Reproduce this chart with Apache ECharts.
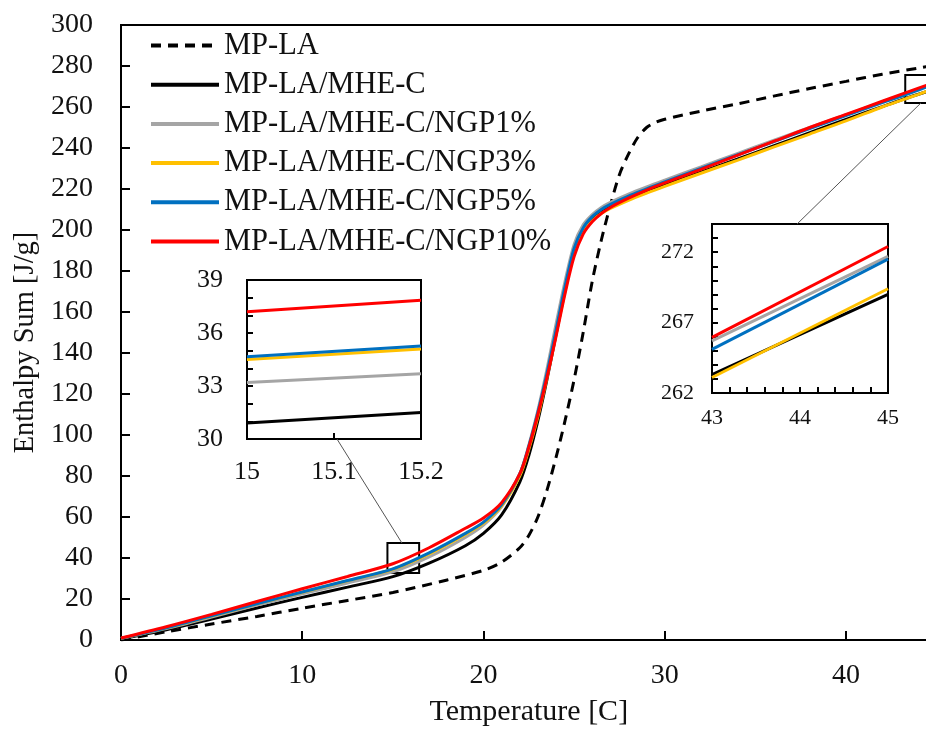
<!DOCTYPE html>
<html><head><meta charset="utf-8">
<script src="https://cdn.jsdelivr.net/npm/echarts@6/dist/echarts.min.js"></script>
<style>html,body{margin:0;padding:0;background:#fff}#c{width:926px;height:730px}</style>
</head><body><div id="c"></div>
<script>
const seriesNames = ['MP-LA', 'MP-LA/MHE-C', 'MP-LA/MHE-C/NGP1%', 'MP-LA/MHE-C/NGP3%', 'MP-LA/MHE-C/NGP5%', 'MP-LA/MHE-C/NGP10%'];
const seriesColors = ['#000000', '#000000', '#a5a5a5', '#ffc000', '#0070c0', '#ff0000'];

// Main chart: MP-LA (dashed)
const tempMPLA = [0, 2.5, 5, 7.5, 10, 12.5, 15, 18, 20, 21, 22, 22.5, 23, 23.5, 24, 24.5, 25, 25.5, 26, 26.5, 27, 27.5, 28, 28.5, 29, 29.5, 30, 32, 34, 36, 38, 40, 42, 44, 45];
const enthalpyMPLA = [0, 4, 7.8, 11.5, 15.5, 19.3, 23.2, 29.3, 34, 38, 45, 51, 60, 73, 89, 107, 127, 150, 175, 195, 212, 227, 237, 245, 250, 252.5, 254, 258, 261.5, 265.3, 269, 272.5, 276, 279, 280.5];

// Main chart: composites
const tempComposite = [0, 2.5, 5, 7.5, 10, 12.5, 15, 17, 19, 20, 21, 22, 22.5, 23, 23.5, 24, 24.5, 25, 25.5, 26, 26.5, 27, 28, 29, 30, 32, 34, 36, 38, 40, 42, 43, 44, 45];
const enthalpyMHEC   = [0.5, 5, 10.2, 15.6, 20.8, 25.8, 30.9, 37.5, 46, 52, 61, 77, 90, 107, 127, 149, 171, 190, 200, 205.5, 209, 211.5, 215.5, 219, 222, 228.2, 234.5, 241, 247.5, 254, 260.2, 263.3, 266.2, 269.0];
const enthalpyNGP1   = [0.8, 5.6, 11.2, 17, 22.5, 27.8, 33.2, 40.5, 50, 56, 65, 81, 95, 112, 132, 154, 175, 193, 202.5, 207.5, 211, 213.5, 217.5, 221, 224.3, 230.8, 237.3, 243.7, 250, 256.2, 262.5, 265.7, 268.7, 271.7];
const enthalpyNGP3   = [0.8, 5.9, 11.7, 17.6, 23.3, 28.9, 34.5, 42, 51.5, 57, 65.5, 80, 93, 109, 128, 149, 170, 189, 199, 204.5, 208, 210.5, 214.5, 218, 221.3, 227.7, 234, 240.4, 246.8, 253.2, 260, 263.1, 266.2, 269.4];
const enthalpyNGP5   = [0.8, 5.9, 11.8, 17.7, 23.4, 29, 34.7, 42.5, 52, 57.5, 66, 81, 94.5, 111, 130, 151, 172.5, 191, 201, 206.5, 210, 212.5, 216.5, 220, 223.5, 230, 236.6, 243, 249.5, 255.8, 262.1, 265.1, 268.3, 271.5];
const enthalpyNGP10  = [1, 6.5, 12.5, 18.8, 25, 31, 37.2, 45, 54.5, 59.5, 67, 81, 94, 110, 128, 148, 169, 187, 198, 204, 208, 211, 215.5, 219.5, 223, 229.6, 236.4, 243.2, 250, 256.4, 262.8, 266, 269.2, 272.4];

// Inset (low temperature)
const insetLowTemp = [15, 15.2];
const insetLowMHEC  = [30.9, 31.5];
const insetLowNGP1  = [33.2, 33.7];
const insetLowNGP3  = [34.5, 35.1];
const insetLowNGP5  = [34.66, 35.26];
const insetLowNGP10 = [37.2, 37.85];

// Inset (high temperature)
const insetHighTemp = [43, 45];
const insetHighMHEC  = [263.3, 269.0];
const insetHighNGP1  = [265.7, 271.7];
const insetHighNGP3  = [263.1, 269.4];
const insetHighNGP5  = [265.1, 271.5];
const insetHighNGP10 = [265.95, 272.4];

// Zoom boxes and connectors (data coordinates of the main chart)
const zoomBoxLow = [[14.7, 47.3], [16.45, 32.7]];
const zoomBoxHigh = [[43.27, 275.6], [45, 262]];
const connectorLow = [[11.92, 98], [15.5, 47.3]];
const connectorHigh = [[37.3, 202.9], [44.14, 262]];

const FONT = "'Liberation Serif', 'Times New Roman', serif";
const pairs = (xs, ys) => xs.map((x, i) => [x, ys[i]]);

const compositeMain = [enthalpyMHEC, enthalpyNGP1, enthalpyNGP3, enthalpyNGP5, enthalpyNGP10];
const compositeLow = [insetLowMHEC, insetLowNGP1, insetLowNGP3, insetLowNGP5, insetLowNGP10];
const compositeHigh = [insetHighMHEC, insetHighNGP1, insetHighNGP3, insetHighNGP5, insetHighNGP10];

const series = [];
series.push({
  name: seriesNames[0], type: 'line', xAxisIndex: 0, yAxisIndex: 0,
  data: pairs(tempMPLA, enthalpyMPLA), smooth: 0.3, symbol: 'none', showSymbol: false,
  lineStyle: { color: seriesColors[0], width: 3, type: [10, 7] }, itemStyle: { color: seriesColors[0] }, z: 2,
  markArea: {
    silent: true,
    itemStyle: { color: 'rgba(0,0,0,0)', borderColor: '#000', borderWidth: 2 },
    data: [[{ coord: zoomBoxLow[0] }, { coord: zoomBoxLow[1] }], [{ coord: zoomBoxHigh[0] }, { coord: zoomBoxHigh[1] }]]
  },
  markLine: {
    silent: true, symbol: ['none', 'none'], label: { show: false },
    lineStyle: { color: '#555', width: 1, type: 'solid' },
    data: [[{ coord: connectorLow[0] }, { coord: connectorLow[1] }], [{ coord: connectorHigh[0] }, { coord: connectorHigh[1] }]]
  }
});
compositeMain.forEach((arr, i) => {
  series.push({
    name: seriesNames[i + 1], type: 'line', xAxisIndex: 0, yAxisIndex: 0,
    data: pairs(tempComposite, arr), smooth: 0.3, symbol: 'none', showSymbol: false,
    lineStyle: { color: seriesColors[i + 1], width: 3 }, itemStyle: { color: seriesColors[i + 1] }, z: 3 + i
  });
});
compositeLow.forEach((arr, i) => {
  series.push({
    name: seriesNames[i + 1], type: 'line', xAxisIndex: 1, yAxisIndex: 1,
    data: pairs(insetLowTemp, arr), symbol: 'none', showSymbol: false,
    lineStyle: { color: seriesColors[i + 1], width: 3 }, itemStyle: { color: seriesColors[i + 1] }, z: 3 + i
  });
});
compositeHigh.forEach((arr, i) => {
  series.push({
    name: seriesNames[i + 1], type: 'line', xAxisIndex: 2, yAxisIndex: 2,
    data: pairs(insetHighTemp, arr), symbol: 'none', showSymbol: false,
    lineStyle: { color: seriesColors[i + 1], width: 3 }, itemStyle: { color: seriesColors[i + 1] }, z: 3 + i
  });
});

const axisCommon = (fs, margin) => ({
  axisLine: { show: false },
  axisTick: { show: true, inside: true, length: 6, lineStyle: { color: '#000', width: 2 } },
  axisLabel: { color: '#111', fontSize: fs, fontFamily: FONT, margin: margin },
  splitLine: { show: false }
});

const option = {
  animation: false,
  backgroundColor: '#fff',
  grid: [
    { left: 121, top: 25, height: 615, width: 815.6, outerBoundsMode: 'none', containLabel: false, show: true, borderColor: '#000', borderWidth: 2, backgroundColor: 'transparent' },
    { left: 247, top: 280, width: 174, height: 159, outerBoundsMode: 'none', containLabel: false, show: true, borderColor: '#000', borderWidth: 2, backgroundColor: 'transparent' },
    { left: 712, top: 224, width: 176, height: 169, outerBoundsMode: 'none', containLabel: false, show: true, borderColor: '#000', borderWidth: 2, backgroundColor: 'transparent' }
  ],
  legend: {
    data: seriesNames, orient: 'vertical', left: 149, top: 30, padding: 0,
    itemWidth: 68, itemHeight: 14, itemGap: 8.2,
    itemStyle: { opacity: 0 },
    lineStyle: { width: 4 },
    textStyle: { fontSize: 30.5, fontFamily: FONT, color: '#111', lineHeight: 30 }
  },
  xAxis: [
    Object.assign(axisCommon(28, 22), {
      type: 'value', gridIndex: 0, min: 0, max: 45, interval: 10,
      axisLabel: { color: '#111', fontSize: 28, fontFamily: FONT, margin: 22, showMaxLabel: false },
      axisTick: { show: true, inside: true, length: 9, lineStyle: { color: '#000', width: 2 } },
      name: 'Temperature [C]', nameLocation: 'middle', nameGap: 57,
      nameTextStyle: { fontSize: 30, fontFamily: FONT, color: '#111' }
    }),
    Object.assign(axisCommon(26, 20), {
      type: 'value', gridIndex: 1, min: 15, max: 15.2, interval: 0.1,
      axisLabel: { color: '#111', fontSize: 26, fontFamily: FONT, margin: 20, showMaxLabel: true, showMinLabel: true }
    }),
    Object.assign(axisCommon(22, 14), {
      type: 'value', gridIndex: 2, min: 43, max: 45, interval: 1,
      minorTick: { show: true, splitNumber: 5, length: 6, lineStyle: { color: '#000', width: 2 } }
    })
  ],
  yAxis: [
    Object.assign(axisCommon(28, 28), {
      type: 'value', gridIndex: 0, min: 0, max: 300, interval: 20,
      axisTick: { show: true, inside: true, length: 9, lineStyle: { color: '#000', width: 2 } },
      name: 'Enthalpy Sum [J/g]', nameLocation: 'middle', nameGap: 80,
      nameTextStyle: { fontSize: 28.5, fontFamily: FONT, color: '#111', padding: [0, 20, 0, 0] }
    }),
    Object.assign(axisCommon(26, 24), {
      type: 'value', gridIndex: 1, min: 30, max: 39, interval: 3,
      minorTick: { show: true, splitNumber: 3, length: 6, lineStyle: { color: '#000', width: 2 } }
    }),
    Object.assign(axisCommon(22, 18), {
      type: 'value', gridIndex: 2, min: 262, max: 274, interval: 5,
      axisLabel: { color: '#111', fontSize: 22, fontFamily: FONT, margin: 18, showMaxLabel: false },
      minorTick: { show: true, splitNumber: 5, length: 6, lineStyle: { color: '#000', width: 2 } }
    })
  ],
  series: series
};

const chart = echarts.init(document.getElementById('c'), null, { renderer: 'canvas' });
chart.setOption(option);
</script>
</body></html>
